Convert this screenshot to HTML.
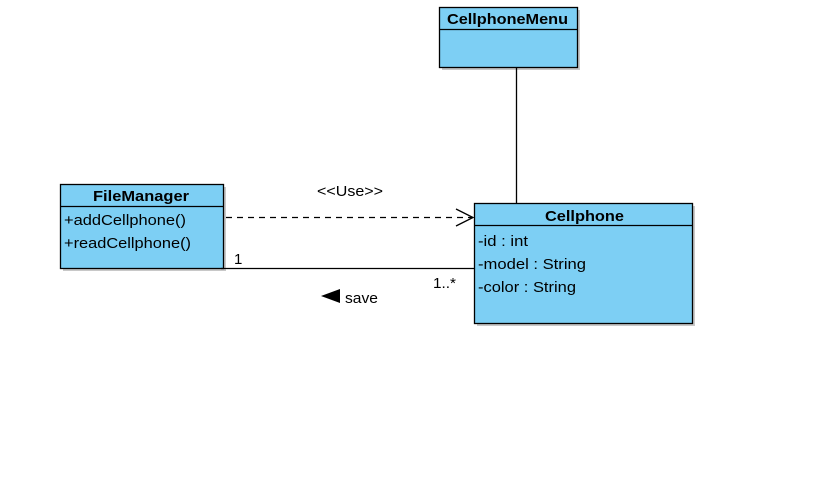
<!DOCTYPE html>
<html><head><meta charset="utf-8"><style>
html,body{margin:0;padding:0;background:#fff;width:821px;height:482px;overflow:hidden}
text{font-family:"Liberation Sans",Arial,sans-serif;font-size:15px;fill:#000}
.b{font-weight:bold}
</style></head><body>
<svg width="821" height="482" viewBox="0 0 821 482" xmlns="http://www.w3.org/2000/svg">
<g fill="#c8c8c8">
<rect x="442" y="10" width="138" height="60"/>
<rect x="63" y="187" width="163" height="84"/>
<rect x="477" y="206" width="218" height="120"/>
</g>
<g fill="#7dcff4" stroke="#000" stroke-width="1.3">
<rect x="439.5" y="7.5" width="138" height="60"/>
<line x1="439.5" y1="29.5" x2="577.5" y2="29.5"/>
<rect x="60.5" y="184.5" width="163" height="84"/>
<line x1="60.5" y1="206.5" x2="223.5" y2="206.5"/>
<rect x="474.5" y="203.5" width="218" height="120"/>
<line x1="474.5" y1="225.5" x2="692.5" y2="225.5"/>
</g>
<text class="b" x="447" y="24" textLength="121" lengthAdjust="spacingAndGlyphs">CellphoneMenu</text>
<text class="b" x="93" y="201" textLength="96" lengthAdjust="spacingAndGlyphs">FileManager</text>
<text x="64" y="225" textLength="122" lengthAdjust="spacingAndGlyphs">+addCellphone()</text>
<text x="64" y="248" textLength="127" lengthAdjust="spacingAndGlyphs">+readCellphone()</text>
<text class="b" x="545" y="221" textLength="79" lengthAdjust="spacingAndGlyphs">Cellphone</text>
<text x="478" y="246" textLength="50" lengthAdjust="spacingAndGlyphs">-id : int</text>
<text x="478" y="269" textLength="108" lengthAdjust="spacingAndGlyphs">-model : String</text>
<text x="478" y="292" textLength="98" lengthAdjust="spacingAndGlyphs">-color : String</text>
<g stroke="#000" stroke-width="1.3" fill="none">
<line x1="516.5" y1="68" x2="516.5" y2="203"/>
<line x1="226" y1="217.5" x2="473" y2="217.5" stroke-dasharray="6,5"/>
<polyline points="456,209 473,217.5 456,226"/>
<line x1="221" y1="268.5" x2="474" y2="268.5"/>
</g>
<text x="317" y="196" textLength="66" lengthAdjust="spacingAndGlyphs">&lt;&lt;Use&gt;&gt;</text>
<text x="234" y="264">1</text>
<text x="433" y="288" textLength="23" lengthAdjust="spacingAndGlyphs">1..*</text>
<polygon points="321,296 340,289 340,303" fill="#000"/>
<text x="345" y="303" textLength="33" lengthAdjust="spacingAndGlyphs">save</text>
</svg>
</body></html>
